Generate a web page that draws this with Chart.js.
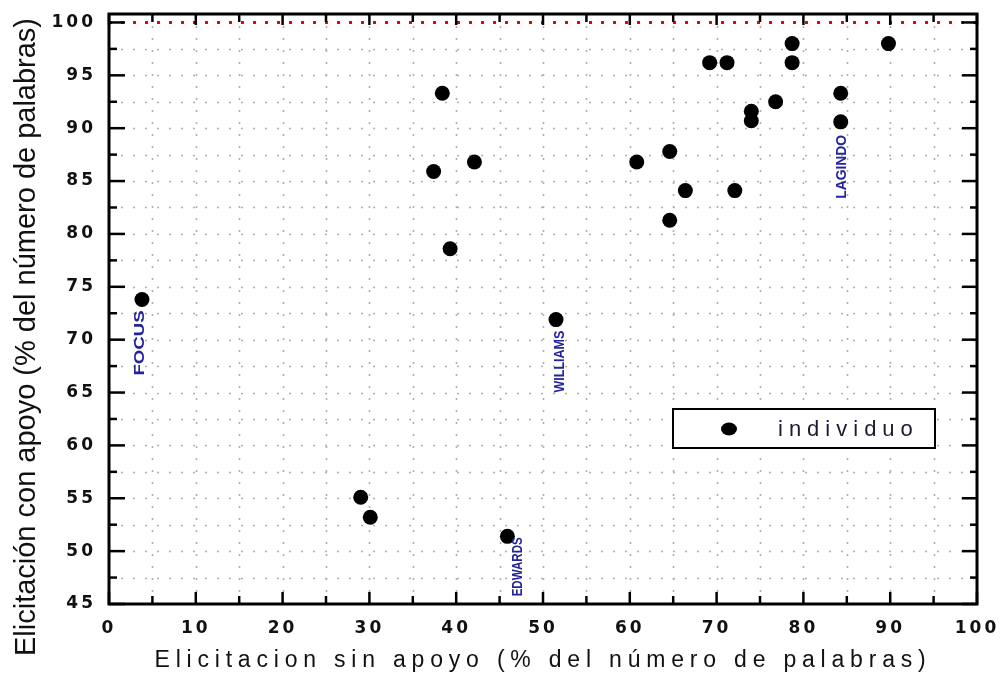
<!DOCTYPE html>
<html>
<head>
<meta charset="utf-8">
<script src="https://cdn.jsdelivr.net/npm/chart.js@4.4.1/dist/chart.umd.min.js"></script>
<style>
  html, body { margin: 0; padding: 0; background: #fff; }
  #wrap { width: 1002px; height: 675px; position: relative; }
</style>
</head>
<body>
<div id="wrap"><canvas id="c" width="1002" height="675"></canvas></div>
<script>
// Elicitación sin apoyo (x) y con apoyo (y), % del número de palabras, por individuo
const sinApoyo = [3.8, 29.0, 30.1, 45.9, 51.5, 37.4, 38.4, 39.3, 42.1, 60.8, 64.6, 64.6,
                  66.4, 69.2, 71.2, 72.1, 74.0, 74.0, 76.8, 78.7, 78.7, 84.3, 84.3, 89.8];
const conApoyo = [73.8, 55.1, 53.2, 51.4, 71.9, 85.9, 93.3, 78.6, 86.8, 86.8, 87.8, 81.3,
                  84.1, 96.2, 96.2, 84.1, 91.6, 90.7, 92.5, 98.0, 96.2, 93.3, 90.6, 98.0];

// Individuos identificados por nombre (índice en las series anteriores)
const nombres = ['FOCUS', 'EDWARDS', 'WILLIAMS', 'LAGINDO'];
const indiceNombre = [0, 3, 4, 22];

// Línea de referencia: 100 %
const referenciaX = [0, 100];
const referenciaY = [100, 100];

// Marcas de los ejes
const xTicks = [0, 10, 20, 30, 40, 50, 60, 70, 80, 90, 100];
const xMinor = [5, 15, 25, 35, 45, 55, 65, 75, 85, 95];
const yTicks = [45, 50, 55, 60, 65, 70, 75, 80, 85, 90, 95, 100];
const yMinor = [47.5, 52.5, 57.5, 62.5, 67.5, 72.5, 77.5, 82.5, 87.5, 92.5, 97.5];

const xTitle = 'Elicitacion sin apoyo (% del número de palabras)';
const yTitle = 'Elicitación con apoyo (% del número de palabras)';
const serieNombre = 'individuo';

// Placement of the rotated name tags relative to their point (pixels)
const tagLayout = [
  { dx: -2, from: 76, to: 11 },
  { dx: 11, from: 60, to: 1 },
  { dx: 4, from: 73, to: 11 },
  { dx: 1, from: 77, to: 13 }
];

function spaced(scale, method, spacing) {
  const orig = scale[method].bind(scale);
  scale[method] = function (a) {
    const c = this.ctx;
    c.save();
    c.letterSpacing = spacing;
    orig(a);
    c.restore();
  };
}

const framePlugin = {
  id: 'frame',
  beforeDraw(chart) {
    const { x, y } = chart.scales;
    if (!x._spaced) {
      spaced(x, 'drawLabels', '3px');
      spaced(x, 'drawTitle', '5.8px');
      spaced(y, 'drawLabels', '3px');
      x._spaced = true;
    }
  },
  beforeDatasetsDraw(chart) {
    const { ctx, chartArea: a, scales: { x, y } } = chart;
    ctx.save();
    ctx.strokeStyle = '#b0b0b0';
    ctx.lineWidth = 1.6;
    ctx.setLineDash([2, 10]);
    xTicks.concat(xMinor).forEach(v => {
      if (v <= 0 || v >= 100) return;
      const px = Math.round(x.getPixelForValue(v)) + 0.5;
      ctx.beginPath(); ctx.moveTo(px, a.top); ctx.lineTo(px, a.bottom); ctx.stroke();
    });
    yTicks.concat(yMinor).forEach(v => {
      if (v <= 45 || v >= 100) return;
      const py = Math.round(y.getPixelForValue(v)) + 0.5;
      ctx.beginPath(); ctx.moveTo(a.left, py); ctx.lineTo(a.right, py); ctx.stroke();
    });
    ctx.restore();
  },
  afterDatasetsDraw(chart) {
    const { ctx, scales: { x, y } } = chart;
    // rotated name tags under their points
    nombres.forEach((name, k) => {
      const i = indiceNombre[k];
      const L = tagLayout[k];
      const px = x.getPixelForValue(sinApoyo[i]) + L.dx;
      const py = y.getPixelForValue(conApoyo[i]);
      const len = L.from - L.to;
      ctx.save();
      ctx.font = 'bold 14px "Liberation Sans Narrow", "Liberation Sans", sans-serif';
      const w = ctx.measureText(name).width;
      ctx.translate(px, py + L.from);
      ctx.rotate(-Math.PI / 2);
      ctx.scale(len / w, 1);
      ctx.fillStyle = '#23239e';
      ctx.textAlign = 'left';
      ctx.textBaseline = 'middle';
      ctx.fillText(name, 0, 0);
      ctx.restore();
    });
  },
  afterDraw(chart) {
    const { ctx, chartArea: a, scales: { x, y } } = chart;
    ctx.save();
    // frame
    ctx.strokeStyle = '#000';
    ctx.lineWidth = 3;
    ctx.strokeRect(a.left, a.top, a.right - a.left, a.bottom - a.top);
    // inward tick marks on all four sides
    ctx.lineWidth = 2.5;
    const tick = (x1, y1, x2, y2) => { ctx.beginPath(); ctx.moveTo(x1, y1); ctx.lineTo(x2, y2); ctx.stroke(); };
    xTicks.forEach(v => {
      const px = x.getPixelForValue(v);
      tick(px, a.bottom, px, a.bottom - 12);
      tick(px, a.top, px, a.top + 11);
    });
    xMinor.forEach(v => {
      const px = x.getPixelForValue(v);
      tick(px, a.bottom, px, a.bottom - 8);
      tick(px, a.top, px, a.top + 8);
    });
    yTicks.forEach(v => {
      const py = y.getPixelForValue(v);
      tick(a.left, py, a.left + 16, py);
      tick(a.right, py, a.right - 15, py);
    });
    yMinor.forEach(v => {
      const py = y.getPixelForValue(v);
      tick(a.left, py, a.left + 8, py);
      tick(a.right, py, a.right - 7, py);
    });

    // legend box
    ctx.fillStyle = '#fff';
    ctx.fillRect(673, 409, 262, 39);
    ctx.lineWidth = 2;
    ctx.strokeRect(673, 409, 262, 39);
    const ds = chart.data.datasets[0];
    ctx.fillStyle = ds.backgroundColor;
    ctx.beginPath(); ctx.ellipse(729, 429, 8, 6.5, 0, 0, Math.PI * 2); ctx.fill();
    ctx.font = '22px "Liberation Sans", Arial, sans-serif';
    ctx.letterSpacing = '6px';
    ctx.fillStyle = '#1a1a30';
    ctx.textAlign = 'left';
    ctx.textBaseline = 'middle';
    ctx.fillText(ds.label, 778, 430);
    ctx.letterSpacing = '0px';

    // y axis title
    ctx.translate(27, 337);
    ctx.rotate(-Math.PI / 2);
    ctx.font = '29px "Liberation Sans", Arial, sans-serif';
    ctx.fillStyle = '#111';
    ctx.textAlign = 'center';
    ctx.textBaseline = 'middle';
    ctx.fillText(yTitle, 0, 0, 638);
    ctx.restore();
  }
};

new Chart(document.getElementById('c'), {
  type: 'scatter',
  data: {
    datasets: [
      {
        label: serieNombre,
        data: sinApoyo.map((v, i) => ({ x: v, y: conApoyo[i] })),
        pointStyle: 'circle',
        pointRadius: 7.5,
        pointHoverRadius: 7.5,
        backgroundColor: '#000',
        borderColor: '#000',
        borderWidth: 0,
        order: 0
      },
      {
        type: 'line',
        label: '100 %',
        data: referenciaX.map((v, i) => ({ x: v, y: referenciaY[i] })),
        borderColor: '#f00000',
        borderWidth: 3,
        borderDash: [3, 9],
        pointRadius: 0,
        fill: false,
        order: 1
      }
    ]
  },
  options: {
    responsive: false,
    animation: false,
    devicePixelRatio: 1,
    layout: { padding: { left: 0, top: 14, right: 25, bottom: 0 } },
    plugins: { legend: { display: false }, tooltip: { enabled: false } },
    scales: {
      x: {
        type: 'linear',
        min: 0,
        max: 100,
        afterBuildTicks: s => { s.ticks = xTicks.map(v => ({ value: v })); },
        afterFit: s => { s.height = 71; s.paddingLeft = 0; s.paddingRight = 0; },
        grid: { display: false, drawTicks: false },
        border: { display: false },
        ticks: {
          padding: 14,
          color: '#111',
          font: { family: '"DejaVu Sans", Verdana, sans-serif', size: 17, weight: 'bold' },
          maxRotation: 0,
          autoSkip: false
        },
        title: {
          display: true,
          text: xTitle,
          color: '#111',
          font: { family: '"Liberation Sans", Arial, sans-serif', size: 23 },
          padding: { top: 0, bottom: 1 }
        }
      },
      y: {
        type: 'linear',
        min: 45,
        max: 100.8,
        afterBuildTicks: s => { s.ticks = yTicks.map(v => ({ value: v })); },
        afterFit: s => { s.width = 109; s.paddingTop = 0; s.paddingBottom = 0; },
        grid: { display: false, drawTicks: false },
        border: { display: false },
        ticks: {
          padding: 13,
          color: '#111',
          font: { family: '"DejaVu Sans", Verdana, sans-serif', size: 17, weight: 'bold' },
          autoSkip: false
        }
      }
    }
  },
  plugins: [framePlugin]
});
</script>
</body>
</html>
